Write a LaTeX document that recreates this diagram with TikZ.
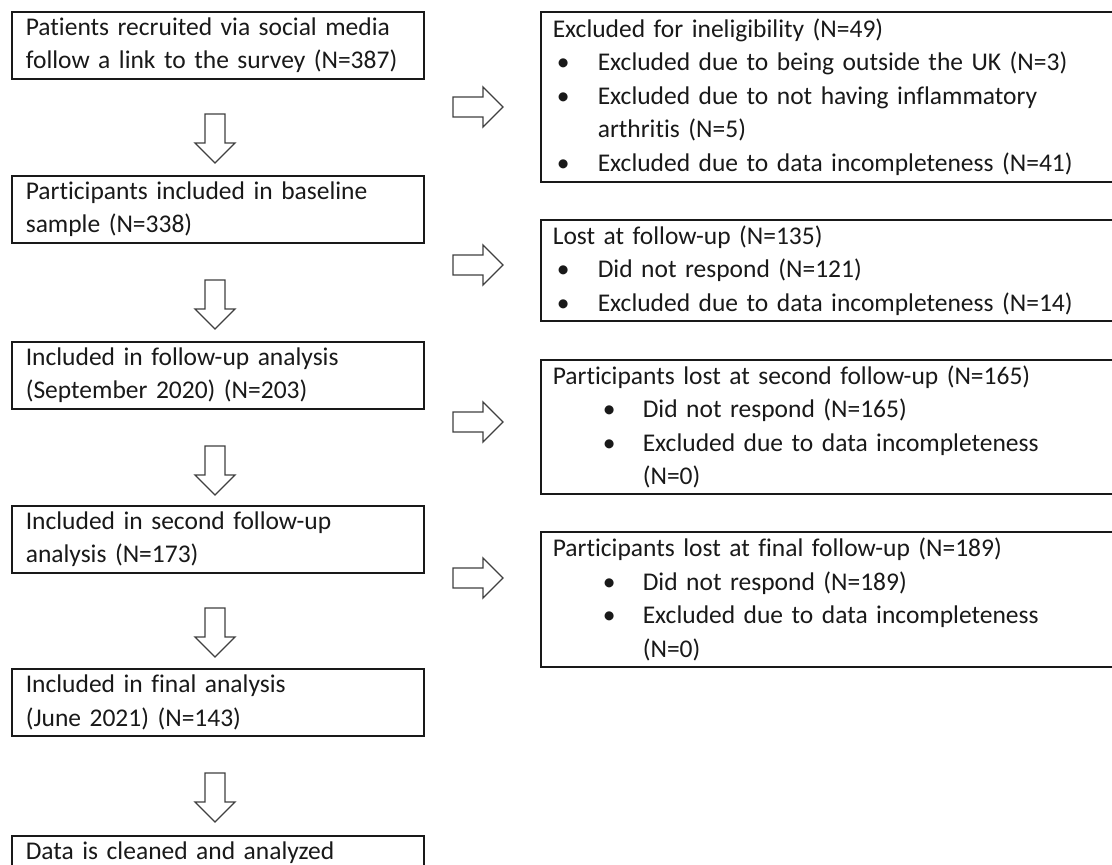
\documentclass[tikz,border=0pt]{standalone}
\usepackage{fontspec}
\setmainfont{Carlito}[Ligatures={NoCommon}]
\newcommand\bulA{\makebox[45pt][l]{\hspace*{4pt}\textbullet}}
\newcommand\bulB{\makebox[90pt][l]{\hspace*{50pt}\textbullet}}
\newcommand\downblk[2]{\draw[blk] (#1,#2) ++(-10,0) -- ++(20,0) -- ++(0,29) -- ++(10,0) -- ++(-20,20) -- ++(-20,-20) -- ++(10,0) -- cycle;}
\newcommand\rightblk[2]{\draw[blk] (#1,#2) ++(0,-10) -- ++(30,0) -- ++(0,-10) -- ++(20,20) -- ++(-20,20) -- ++(0,-10) -- ++(-30,0) -- cycle;}
\tikzset{
  box/.style={draw=black!90, line width=1.6pt, inner ysep=0pt, align=left,
    font=\fontsize{25.5}{33.5}\selectfont, text=black!90, anchor=north west},
  lbox/.style={box, inner xsep=14pt, minimum width=412pt, text width=384pt, minimum height=67pt},
  rbox/.style={box, inner xsep=12pt, minimum width=600pt, text width=576pt},
  blk/.style={draw=black!75, line width=1.3pt, fill=white, line join=miter},
}
\begin{document}
\begin{tikzpicture}[x=1pt,y=-1pt]
\useasboundingbox (0,0) rectangle (1112,865);
\clip (0,0) rectangle (1112,865);
\fill[white] (0,0) rectangle (1112,865);
% left column
\node[lbox] (b1) at (11,11) {Patients recruited via social media\\follow a link to the survey (N=387)};
\node[lbox] (b2) at (11,175) {Participants included in baseline\\sample (N=338)};
\node[lbox] (b3) at (11,341) {Included in follow-up analysis\\(September 2020) (N=203)};
\node[lbox] (b4) at (11,505) {Included in second follow-up\\analysis (N=173)};
\node[lbox] (b5) at (11,668) {Included in final analysis\\(June 2021) (N=143)};
\node[lbox, minimum height=32pt] (b6) at (11,835) {Data is cleaned and analyzed\vphantom{(}};
% right column
\node[rbox, minimum height=170pt] (r1) at (540,11) {Excluded for ineligibility (N=49)\\
\bulA Excluded due to being outside the UK (N=3)\\
\bulA Excluded due to not having inflammatory\\
\hspace*{45pt}arthritis (N=5)\\
\bulA Excluded due to data incompleteness (N=41)};
\node[rbox, minimum height=101pt] (r2) at (540,219) {Lost at follow-up (N=135)\\
\bulA Did not respond (N=121)\\
\bulA Excluded due to data incompleteness (N=14)};
\node[rbox, minimum height=134pt] (r3) at (540,359) {Participants lost at second follow-up (N=165)\\
\bulB Did not respond (N=165)\\
\bulB Excluded due to data incompleteness\\
\hspace*{90pt}(N=0)};
\node[rbox, minimum height=135pt] (r4) at (540,531) {Participants lost at final follow-up (N=189)\\
\bulB Did not respond (N=189)\\
\bulB Excluded due to data incompleteness\\
\hspace*{90pt}(N=0)};
% down arrows
\downblk{215}{114}
\downblk{215}{280}
\downblk{215}{446}
\downblk{215}{608}
\downblk{215}{773}
% right arrows
\rightblk{453}{107}
\rightblk{453}{265}
\rightblk{453}{422}
\rightblk{453}{578}
\end{tikzpicture}
\end{document}
